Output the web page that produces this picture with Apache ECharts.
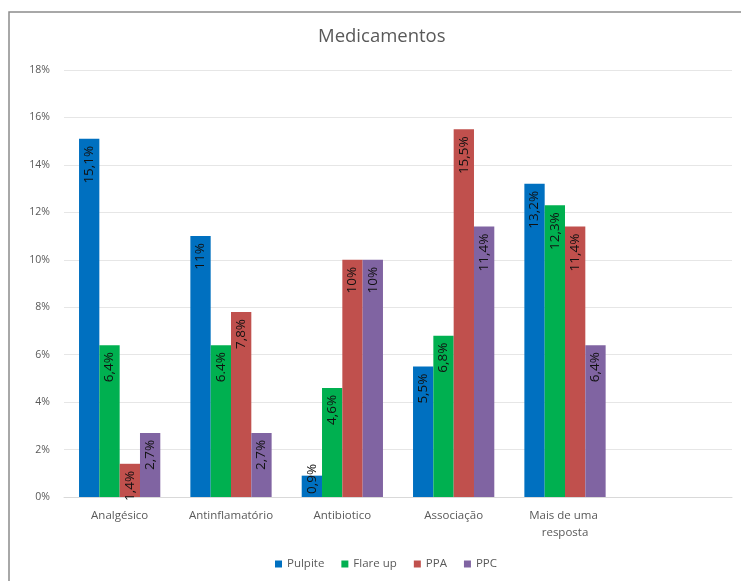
<!DOCTYPE html>
<html>
<head>
<meta charset="utf-8">
<script src="https://cdn.jsdelivr.net/npm/echarts@6/dist/echarts.min.js"></script>
<style>
  html, body { margin: 0; padding: 0; background: #fff; }
  #chart { width: 741px; height: 581px; }
</style>
</head>
<body>
<div id="chart"></div>
<script>
// Categories (the last slot is left empty on purpose)
const categories = ['Analgésico', 'Antinflamatório', 'Antibiotico', 'Associação', 'Mais de uma resposta', ''];
const seriesNames = ['Pulpite', 'Flare up', 'PPA', 'PPC'];

// Percentages per series
const pulpite = [15.1, 11, 0.9, 5.5, 13.2];
const flareUp = [6.4, 6.4, 4.6, 6.8, 12.3];
const ppa = [1.4, 7.8, 10, 15.5, 11.4];
const ppc = [2.7, 2.7, 10, 11.4, 6.4];

// Label texts as printed on the bars
const pulpiteLabels = ['15,1%', '11%', '0,9%', '5,5%', '13,2%'];
const flareUpLabels = ['6,4%', '6.4%', '4,6%', '6,8%', '12,3%'];
const ppaLabels = ['1,4%', '7,8%', '10%', '15,5%', '11,4%'];
const ppcLabels = ['2,7%', '2,7%', '10%', '11,4%', '6,4%'];

const yTicks = [0, 2, 4, 6, 8, 10, 12, 14, 16, 18];

const colors = ['#0070C0', '#00B050', '#C0504D', '#8064A2'];
const values = [pulpite, flareUp, ppa, ppc];
const labels = [pulpiteLabels, flareUpLabels, ppaLabels, ppcLabels];

const FONT = 'Open Sans, Noto Sans, sans-serif';

function buildSeries(i) {
  return {
    name: seriesNames[i],
    type: 'bar',
    barGap: '0%',
    barCategoryGap: '27%',
    itemStyle: { color: colors[i] },
    data: values[i].map(v => {
      const item = { value: v };
      // very short bars get their label anchored at the base
      if (v < 1) {
        item.label = { position: 'insideBottom', align: 'left', distance: 3 };
      }
      return item;
    }),
    label: {
      show: true,
      position: 'insideTop',
      rotate: 90,
      align: 'right',
      verticalAlign: 'middle',
      distance: 7,
      color: '#111',
      fontSize: 13.5,
      fontFamily: FONT,
      formatter: p => labels[i][p.dataIndex]
    }
  };
}

const chart = echarts.init(document.getElementById('chart'));
chart.setOption({
  animation: false,
  backgroundColor: '#fff',
  color: colors,
  graphic: [{
    type: 'rect',
    shape: { x: 9, y: 12, width: 760, height: 600 },
    style: { fill: 'none', stroke: '#8c8c8c', lineWidth: 1.5 },
    silent: true
  }],
  title: {
    text: 'Medicamentos',
    left: 313,
    top: 22,
    textStyle: { color: '#595959', fontSize: 18.5, fontWeight: 'normal', fontFamily: FONT }
  },
  legend: {
    data: seriesNames,
    left: 270,
    top: 553,
    icon: 'rect',
    itemWidth: 7,
    itemHeight: 7,
    itemGap: 17,
    textStyle: { color: '#595959', fontSize: 11.5, fontFamily: FONT }
  },
  grid: { left: 64, right: 9, top: 70, bottom: 84, containLabel: false },
  xAxis: {
    type: 'category',
    data: categories,
    axisTick: { show: false },
    axisLine: { lineStyle: { color: '#d9d9d9' } },
    axisLabel: {
      color: '#595959',
      fontSize: 11.5,
      fontFamily: FONT,
      margin: 10,
      interval: 0,
      width: 100,
      overflow: 'break',
      lineHeight: 17
    }
  },
  yAxis: {
    type: 'value',
    min: yTicks[0],
    max: yTicks[yTicks.length - 1],
    interval: 2,
    axisLine: { show: false },
    axisTick: { show: false },
    splitLine: { lineStyle: { color: '#e6e6e6' } },
    axisLabel: {
      color: '#595959',
      fontSize: 10.5,
      fontFamily: FONT,
      margin: 14,
      formatter: v => v + '%'
    }
  },
  series: [0, 1, 2, 3].map(buildSeries)
});
</script>
</body>
</html>
